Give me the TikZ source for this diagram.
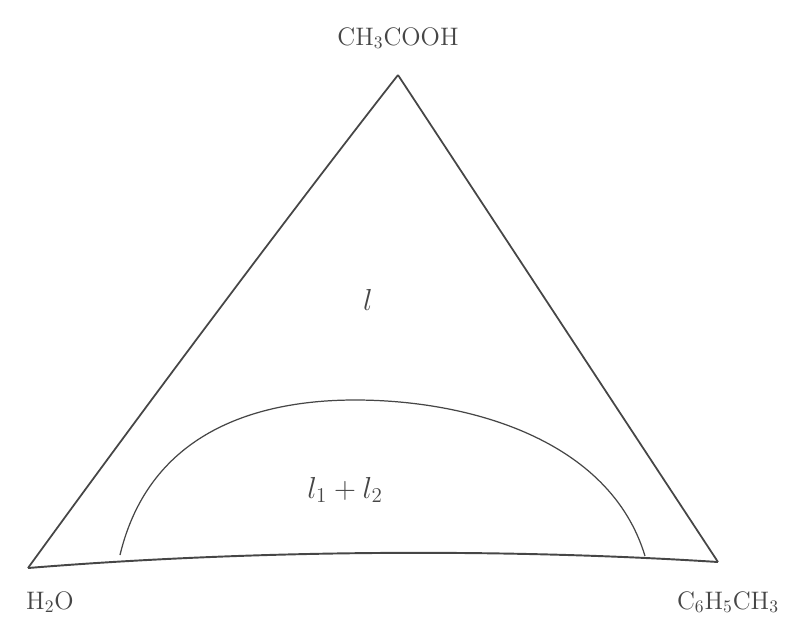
\documentclass[tikz,border=0pt]{standalone}
\usepackage{xcolor}
\usepackage{amsmath}
\usepackage{tikz}
\usetikzlibrary{positioning, calc}
\definecolor{pencil}{RGB}{70, 70, 70}

\begin{document}
\begin{tikzpicture}[x=0.02cm, y=-0.02cm]
    \useasboundingbox (0, 0) rectangle (788, 630);

    \coordinate (Acid) at (398, 75);
    \coordinate (Water) at (28, 568);
    \coordinate (Toluene) at (718, 562);

    \draw[line width=1.0pt, color=pencil] (Water) .. controls (150, 400) and (300, 200) .. (Acid);
    \draw[line width=1.0pt, color=pencil] (Acid) -- (Toluene);
    \draw[line width=1.1pt, color=pencil] (Water) .. controls (250, 550) and (500, 548) .. (Toluene);

    \coordinate (BinL) at (120, 555);
    \coordinate (BinTop) at (355, 400);
    \coordinate (BinR) at (645, 556);
    \draw[line width=0.7pt, color=pencil] (BinL) .. controls (150, 430) and (260, 400) .. (BinTop)
        .. controls (470, 400) and (610, 440) .. (BinR);

    \node[font=\Large, color=pencil] (acidlbl) at (398, 38) {CH$_3$COOH};
    \node[font=\Large, color=pencil] (waterlbl) at (50, 602) {H$_2$O};
    \node[font=\Large, color=pencil] (toluenelbl) at (728, 602) {C$_6$H$_5$CH$_3$};

    \node[font=\LARGE, color=pencil] (single) at (368, 300) {$l$};
    \node[font=\LARGE, color=pencil] (twophase) at (345, 490) {$l_1 + l_2$};
\end{tikzpicture}
\end{document}
